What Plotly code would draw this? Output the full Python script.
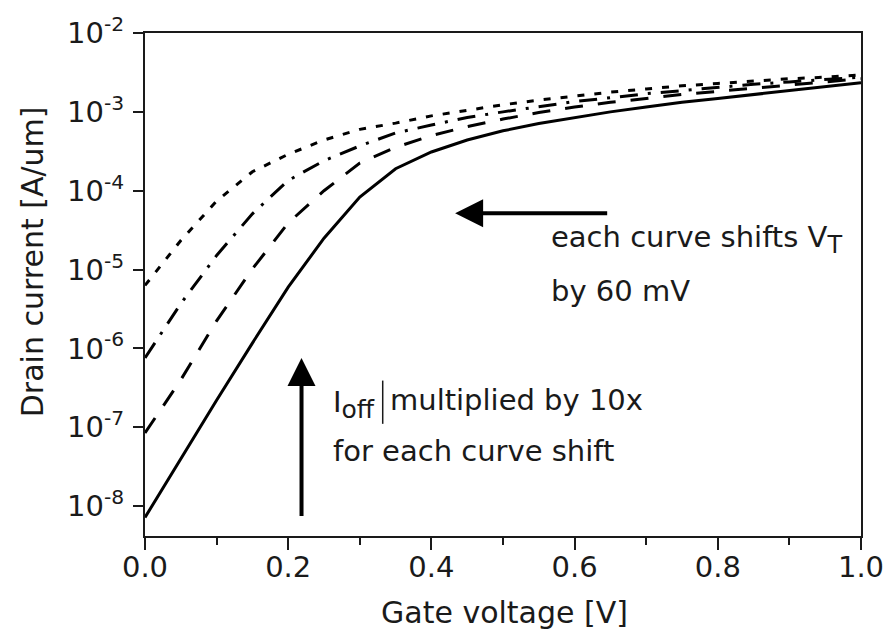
import plotly.graph_objects as go

# Gate voltage sweep [V]
gate_v = [0.00, 0.05, 0.10, 0.15, 0.20, 0.25, 0.30, 0.35, 0.40, 0.45, 0.50,
          0.55, 0.60, 0.65, 0.70, 0.75, 0.80, 0.85, 0.90, 0.95, 1.00]

# Drain current [A/um] for the nominal device and three V_T shifts of 60 mV each
id_nominal = [7.2e-9, 4.0e-8, 2.2e-7, 1.17e-6, 6.0e-6, 2.5e-5, 8.3e-5, 1.9e-4,
              3.1e-4, 4.4e-4, 5.75e-4, 7.1e-4, 8.5e-4, 1.0e-3, 1.15e-3, 1.32e-3,
              1.48e-3, 1.66e-3, 1.86e-3, 2.09e-3, 2.34e-3]
id_shift1 = [8.5e-8, 4.0e-7, 2.24e-6, 1.02e-5, 3.9e-5, 1.0e-4, 2.24e-4, 3.55e-4,
             5.0e-4, 6.5e-4, 8.1e-4, 9.8e-4, 1.15e-3, 1.32e-3, 1.48e-3, 1.66e-3,
             1.82e-3, 2.0e-3, 2.19e-3, 2.4e-3, 2.63e-3]
id_shift2 = [7.6e-7, 3.7e-6, 1.51e-5, 5.1e-5, 1.35e-4, 2.4e-4, 3.7e-4, 5.4e-4,
             6.8e-4, 8.5e-4, 1.0e-3, 1.17e-3, 1.35e-3, 1.51e-3, 1.7e-3, 1.86e-3,
             2.04e-3, 2.24e-3, 2.4e-3, 2.57e-3, 2.75e-3]
id_shift3 = [6.3e-6, 2.34e-5, 7.4e-5, 1.74e-4, 2.9e-4, 4.4e-4, 6.0e-4, 7.2e-4,
             8.9e-4, 1.05e-3, 1.23e-3, 1.41e-3, 1.58e-3, 1.78e-3, 1.95e-3, 2.14e-3,
             2.29e-3, 2.45e-3, 2.63e-3, 2.75e-3, 2.95e-3]

x_tickvals = [0.0, 0.2, 0.4, 0.6, 0.8, 1.0]
x_ticktext = ["0.0", "0.2", "0.4", "0.6", "0.8", "1.0"]
x_minorvals = [0.1, 0.3, 0.5, 0.7, 0.9]
y_tickvals = [1e-8, 1e-7, 1e-6, 1e-5, 1e-4, 1e-3, 1e-2]
y_ticktext = ["10<sup>-8</sup>", "10<sup>-7</sup>", "10<sup>-6</sup>", "10<sup>-5</sup>",
              "10<sup>-4</sup>", "10<sup>-3</sup>", "10<sup>-2</sup>"]

FONT = "DejaVu Sans"
INK = "#1a1a1a"

fig = go.Figure()
curves = [
    (id_nominal, "solid"),
    (id_shift1, "18px,15px"),
    (id_shift2, "18px,10px,3px,10px"),
    (id_shift3, "7px,10px"),
]
for ys, dash in curves:
    fig.add_trace(go.Scatter(x=gate_v, y=ys, mode="lines", showlegend=False,
                             line=dict(color="black", width=3, dash=dash)))

axis_common = dict(showline=True, linewidth=2, linecolor=INK, mirror=True,
                   showgrid=False, zeroline=False, ticks="outside", tickwidth=2,
                   tickcolor=INK, tickfont=dict(family=FONT, size=29, color=INK))

fig.update_layout(
    width=896, height=640,
    margin=dict(l=145, r=28, t=25, b=104),
    paper_bgcolor="white", plot_bgcolor="white",
    xaxis=dict(range=[0, 1], tickvals=x_tickvals, ticktext=x_ticktext, ticklen=12,
               ticklabelstandoff=-8,
               minor=dict(tickvals=x_minorvals, ticks="outside", ticklen=7,
                          tickwidth=2, tickcolor=INK),
               **axis_common),
    yaxis=dict(type="log", range=[-8.378, -2], tickvals=y_tickvals,
               ticktext=y_ticktext, ticklen=10, ticklabelstandoff=3, **axis_common),
)

txt = dict(family=FONT, size=29, color=INK)

def log_y(py):
    # pixel row inside the plot -> log10 current
    return -2 - (py - 25) / 80.1

annotations = [
    # axis titles
    dict(text="Gate voltage [V]", xref="paper", yref="paper", x=0.502, y=-0.153,
         showarrow=False, xanchor="center", yanchor="middle",
         font=dict(family=FONT, size=30, color=INK)),
    dict(text="Drain current [A/um]", xref="paper", yref="paper", x=-0.158, y=0.546,
         showarrow=False, textangle=-90, xanchor="center", yanchor="middle",
         font=dict(family=FONT, size=30, color=INK)),
    # arrows
    dict(x=0.4331, y=log_y(208), ax=0.6476, ay=log_y(208), xref="x", yref="y",
         axref="x", ayref="y", text="", showarrow=True, arrowhead=2,
         arrowsize=1.4, arrowwidth=4, arrowcolor="black"),
    dict(x=0.2186, y=log_y(355), ax=0.2186, ay=log_y(517), xref="x", yref="y",
         axref="x", ayref="y", text="", showarrow=True, arrowhead=2,
         arrowsize=1.4, arrowwidth=4, arrowcolor="black"),
    # labels
    dict(text="each curve shifts V<sub><span style='font-size:24px'>T</span></sub>",
         x=0.5645, y=log_y(235), xref="x", yref="y", showarrow=False,
         xanchor="left", yanchor="middle", font=txt),
    dict(text="by 60 mV", x=0.5645, y=log_y(287), xref="x", yref="y",
         showarrow=False, xanchor="left", yanchor="middle", font=txt),
    dict(text="I<sub><span style='font-size:25px'>off</span></sub>", x=0.260,
         y=log_y(402), xref="x", yref="y", showarrow=False, xanchor="left",
         yanchor="middle", font=txt),
    dict(text="multiplied by 10x", x=0.339, y=log_y(398), xref="x", yref="y",
         showarrow=False, xanchor="left", yanchor="middle", font=txt),
    dict(text="for each curve shift", x=0.260, y=log_y(450), xref="x", yref="y",
         showarrow=False, xanchor="left", yanchor="middle", font=txt),
]
fig.update_layout(annotations=annotations)

# thin caret between the subscript and the following words
fig.add_shape(type="line", xref="paper", yref="paper", x0=0.332, x1=0.332,
              y0=0.223, y1=0.309, line=dict(color=INK, width=1.5))

fig.write_html("out.html")
